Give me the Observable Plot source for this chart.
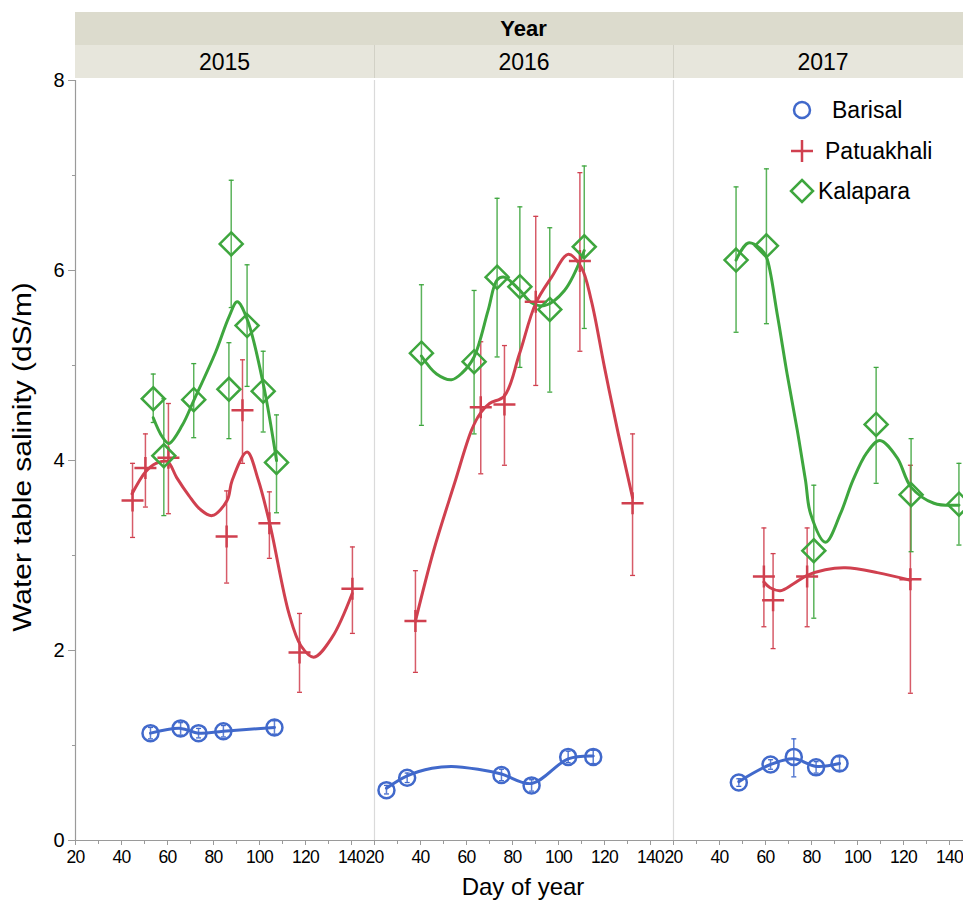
<!DOCTYPE html>
<html>
<head>
<meta charset="utf-8">
<script src="https://cdn.jsdelivr.net/npm/d3@7"></script>
<script src="https://cdn.jsdelivr.net/npm/@observablehq/plot@0.6"></script>
<style>
  html, body { margin: 0; padding: 0; background: #fff; }
  #wrap { position: relative; width: 963px; height: 901px; overflow: hidden;
          font-family: "Liberation Sans", Arial, Helvetica, sans-serif; color: #000; }
  #plot { position: absolute; left: 0; top: 0; width: 975px; }
  .abs { position: absolute; white-space: nowrap; }
</style>
</head>
<body>
<div id="wrap">
  <div id="plot"></div>
</div>
<script>
// ---------------- data ----------------
const years = [2015, 2016, 2017];
const sites = ["Barisal", "Patuakhali", "Kalapara"];
const headerTitle = "Year";
const xLabel = "Day of year";
const yLabel = "Water table salinity (dS/m)";
const xTicks = [20, 40, 60, 80, 100, 120, 140];
const xMinor = [30, 50, 70, 90, 110, 130];
const yTicks = [0, 2, 4, 6, 8];
const yMinor = [1, 3, 5, 7];

// rows: [year, day, mean, low, high]
const barisalPts = [
  [2015, 52.6, 1.13, 1.07, 1.19], [2015, 65.7, 1.18, 1.11, 1.24], [2015, 73.5, 1.13, 1.08, 1.18],
  [2015, 84.3, 1.15, 1.09, 1.21], [2015, 106.5, 1.19, 1.12, 1.26],
  [2016, 25.2, 0.53, 0.49, 0.58], [2016, 34.2, 0.66, 0.61, 0.71], [2016, 75.2, 0.69, 0.63, 0.75],
  [2016, 88.3, 0.58, 0.52, 0.64], [2016, 104.2, 0.88, 0.82, 0.94], [2016, 115.1, 0.88, 0.81, 0.95],
  [2017, 48.4, 0.61, 0.57, 0.65], [2017, 62.2, 0.80, 0.75, 0.85], [2017, 72.3, 0.88, 0.67, 1.07],
  [2017, 82.0, 0.77, 0.71, 0.83], [2017, 92.2, 0.81, 0.74, 0.88]
];
const patuakhaliPts = [
  [2015, 44.8, 3.58, 3.19, 3.97], [2015, 50.4, 3.92, 3.51, 4.28], [2015, 60.4, 4.03, 3.44, 4.60],
  [2015, 85.7, 3.20, 2.71, 3.68], [2015, 92.6, 4.53, 3.97, 5.06], [2015, 104.3, 3.34, 2.97, 3.67],
  [2015, 117.4, 1.98, 1.56, 2.39], [2015, 140.4, 2.65, 2.18, 3.09],
  [2016, 37.8, 2.31, 1.77, 2.84], [2016, 66.2, 4.56, 3.86, 5.25], [2016, 76.5, 4.59, 3.95, 5.21],
  [2016, 90.1, 5.67, 4.79, 6.57], [2016, 109.3, 6.10, 5.15, 7.03], [2016, 132.2, 3.55, 2.79, 4.28],
  [2017, 59.3, 2.78, 2.25, 3.29], [2017, 63.3, 2.53, 2.02, 3.02], [2017, 78.1, 2.78, 2.25, 3.29],
  [2017, 123.0, 2.75, 1.55, 3.95]
];
const kalaparaPts = [
  [2015, 53.8, 4.65, 4.40, 4.91], [2015, 58.4, 4.05, 3.42, 4.65], [2015, 71.4, 4.64, 4.24, 5.02],
  [2015, 86.7, 4.75, 4.23, 5.24], [2015, 87.7, 6.28, 5.61, 6.95], [2015, 94.6, 5.42, 4.78, 6.06],
  [2015, 101.6, 4.73, 4.30, 5.15], [2015, 107.4, 3.98, 3.45, 4.48],
  [2016, 40.4, 5.13, 4.37, 5.85], [2016, 63.3, 5.04, 4.28, 5.79], [2016, 73.3, 5.93, 5.09, 6.76],
  [2016, 83.2, 5.83, 4.98, 6.67], [2016, 96.2, 5.59, 4.72, 6.45], [2016, 111.2, 6.25, 5.39, 7.10],
  [2017, 47.2, 6.11, 5.35, 6.88], [2017, 60.4, 6.26, 5.44, 7.07], [2017, 81.0, 3.05, 2.34, 3.74],
  [2017, 108.1, 4.38, 3.76, 4.98], [2017, 123.3, 3.64, 3.04, 4.23], [2017, 144.1, 3.54, 3.11, 3.97]
];

// smoother curves: [year, day, fitted]
const barisalFit = [
  [2015, 52.6, 1.13], [2015, 65.7, 1.18], [2015, 73.5, 1.13], [2015, 84.3, 1.15], [2015, 106.5, 1.19],
  [2016, 25.2, 0.55], [2016, 34.2, 0.68], [2016, 45, 0.76], [2016, 53.5, 0.78], [2016, 65, 0.75],
  [2016, 75.2, 0.70], [2016, 88.3, 0.60], [2016, 104.2, 0.86], [2016, 115.1, 0.89],
  [2017, 48.4, 0.62], [2017, 62.2, 0.80], [2017, 72.3, 0.86], [2017, 82.0, 0.78], [2017, 92.2, 0.81]
];
const patuakhaliFit = [
  [2015, 44.6, 3.65], [2015, 50.4, 3.88], [2015, 55, 3.97], [2015, 59.9, 3.99], [2015, 64, 3.82],
  [2015, 69.3, 3.63], [2015, 74, 3.49], [2015, 79.4, 3.42], [2015, 85.9, 3.58], [2015, 88.1, 3.79],
  [2015, 94.6, 4.09], [2015, 99.4, 3.80], [2015, 104.5, 3.33], [2015, 112.8, 2.39], [2015, 118, 2.05],
  [2015, 123.6, 1.93], [2015, 131.6, 2.14], [2015, 140.3, 2.60],
  [2016, 37.8, 2.31], [2016, 45.7, 3.05], [2016, 54.8, 3.76], [2016, 62.2, 4.32], [2016, 66.1, 4.50],
  [2016, 70, 4.60], [2016, 76.5, 4.68], [2016, 83, 5.12], [2016, 90, 5.65], [2016, 97, 5.93],
  [2016, 104.3, 6.17], [2016, 110, 6.03], [2016, 114.3, 5.68], [2016, 120, 4.98], [2016, 126, 4.28],
  [2016, 132.2, 3.61],
  [2017, 59.3, 2.72], [2017, 62, 2.66], [2017, 66.5, 2.63], [2017, 72, 2.70], [2017, 78.1, 2.79],
  [2017, 86, 2.85], [2017, 94.8, 2.87], [2017, 108.6, 2.82], [2017, 123, 2.74]
];
const kalaparaFit = [
  [2015, 53.8, 4.45], [2015, 57.7, 4.25], [2015, 60.6, 4.18], [2015, 66.4, 4.37], [2015, 71.4, 4.63],
  [2015, 80.9, 5.14], [2015, 86.7, 5.51], [2015, 90.3, 5.67], [2015, 94.6, 5.49], [2015, 101.6, 4.81],
  [2015, 107.4, 4.00],
  [2016, 40.4, 5.10], [2016, 47, 4.91], [2016, 53.5, 4.85], [2016, 58, 4.92], [2016, 63.3, 5.09],
  [2016, 69.4, 5.58], [2016, 73.3, 5.90], [2016, 76.5, 5.93], [2016, 83.2, 5.79], [2016, 88.3, 5.66],
  [2016, 93.9, 5.63], [2016, 102.6, 5.79], [2016, 111.2, 6.21],
  [2017, 47.2, 6.11], [2017, 52.5, 6.29], [2017, 57.8, 6.23], [2017, 60.4, 6.14], [2017, 65.1, 5.54],
  [2017, 69.4, 4.91], [2017, 73.8, 4.32], [2017, 77.4, 3.79], [2017, 79.6, 3.44], [2017, 86.1, 3.14],
  [2017, 92.6, 3.44], [2017, 98, 3.79], [2017, 104, 4.08], [2017, 109.7, 4.21], [2017, 117.2, 4.03],
  [2017, 123.3, 3.72], [2017, 133.2, 3.55], [2017, 144.1, 3.53]
];

// ---------------- styling ----------------
const colors = {Barisal: "#4169cb", Patuakhali: "#d0404f", Kalapara: "#3ea63e"};
const r2 = (s) => Math.sqrt(s / Math.PI);
const capSym = {draw(c, s) { const r = r2(s); c.moveTo(-r, 0); c.lineTo(r, 0); }};
const plusSym = {draw(c, s) { const r = r2(s); c.moveTo(-r, 0); c.lineTo(r, 0); c.moveTo(0, -r); c.lineTo(0, r); }};
const diamondSym = {draw(c, s) { const r = r2(s); c.moveTo(0, -r); c.lineTo(r, 0); c.lineTo(0, r); c.lineTo(-r, 0); c.closePath(); }};
const symbols = {Barisal: {sym: "circle", r: 8}, Patuakhali: {sym: plusSym, r: 11}, Kalapara: {sym: diamondSym, r: 11.5}};

const toPts = (arr) => arr.map(([year, day, mean, lo, hi]) => ({year, day, mean, lo, hi}));
const toFit = (arr) => arr.map(([year, day, fit]) => ({year, day, fit}));
const series = [
  {site: "Barisal", pts: toPts(barisalPts), fit: toFit(barisalFit)},
  {site: "Patuakhali", pts: toPts(patuakhaliPts), fit: toFit(patuakhaliFit)},
  {site: "Kalapara", pts: toPts(kalaparaPts), fit: toFit(kalaparaFit)}
];

const intFmt = (d) => String(d);
const marks = [
  Plot.ruleX([{year: 2015, d: 20}], {x: "d", fx: "year", stroke: "#9a9a9a", strokeWidth: 1.2}),
  Plot.ruleX([{year: 2016, d: 20}, {year: 2017, d: 20}], {x: "d", fx: "year", stroke: "#dadada", strokeWidth: 1.2}),
  Plot.ruleY([0], {stroke: "#9a9a9a", strokeWidth: 1.2}),
  Plot.axisY(yTicks, {tickSize: 7, tickPadding: 4, tickFormat: intFmt, stroke: "#9a9a9a", fill: "#000", label: null}),
  Plot.axisY(yMinor, {tickSize: 3, tickFormat: () => "", stroke: "#9a9a9a", label: null}),
  Plot.axisX(xTicks, {tickSize: 5, tickPadding: 5, tickFormat: intFmt, stroke: "#9a9a9a", fill: "#000", label: null}),
  Plot.axisX(xMinor, {tickSize: 4, tickFormat: () => "", stroke: "#9a9a9a", label: null})
];
// error bars
for (const s of series) {
  const c = colors[s.site];
  marks.push(Plot.ruleX(s.pts, {x: "day", y1: "lo", y2: "hi", fx: "year", stroke: c, strokeWidth: 1.5, strokeOpacity: 0.85}));
  marks.push(Plot.dot(s.pts, {x: "day", y: "lo", fx: "year", symbol: capSym, r: 2.5, stroke: c, strokeWidth: 1.3, fill: "none"}));
  marks.push(Plot.dot(s.pts, {x: "day", y: "hi", fx: "year", symbol: capSym, r: 2.5, stroke: c, strokeWidth: 1.3, fill: "none"}));
}
// smoothers
for (const s of series) {
  marks.push(Plot.line(s.fit, {x: "day", y: "fit", fx: "year", stroke: colors[s.site], strokeWidth: 3, curve: "catmull-rom"}));
}
// markers
for (const s of series) {
  const m = symbols[s.site];
  marks.push(Plot.dot(s.pts, {x: "day", y: "mean", fx: "year", symbol: m.sym, r: m.r, stroke: colors[s.site], strokeWidth: 2.5, fill: "none"}));
}

const chart = Plot.plot({
  width: 975,
  height: 876,
  marginLeft: 75,
  marginRight: 3,
  marginTop: 80,
  marginBottom: 36,
  style: {fontFamily: "'Liberation Sans', Arial, Helvetica, sans-serif", color: "#000", background: "transparent", overflow: "visible", maxWidth: "none"},
  fx: {domain: years, padding: 0, axis: null, label: null},
  x: {domain: [20, 150]},
  y: {domain: [0, 8]},
  marks
});
document.getElementById("plot").appendChild(chart);
// tick label sizes: set directly on each text element
chart.querySelectorAll("text").forEach((t) => {
  const lab = (t.closest("[aria-label]") || {getAttribute: () => ""}).getAttribute("aria-label") || "";
  if (lab.includes("y-axis")) { t.style.fontSize = "20px"; }
  else if (lab.includes("x-axis")) { t.style.fontSize = "17.5px"; t.style.letterSpacing = "-0.8px"; }
});

// ---------------- header, labels, legend (HTML text) ----------------
const wrap = document.getElementById("wrap");
function el(css, html) {
  const d = document.createElement("div");
  d.className = "abs";
  d.style.cssText = css;
  d.innerHTML = html;
  wrap.appendChild(d);
  return d;
}
const left = 75, panelW = 299;
el(`left:${left}px;top:12px;width:${panelW * 3}px;height:33px;background:#dcdbcd;text-align:center;font-weight:bold;font-size:22px;line-height:33px;`, headerTitle);
years.forEach((y, i) => {
  el(`left:${left + i * panelW}px;top:45px;width:${panelW}px;height:33px;background:#e7e6dc;text-align:center;font-size:23px;line-height:34px;box-sizing:border-box;${i > 0 ? "border-left:1px solid #d2d1c6;" : ""}`, String(y));
});
el(`left:22px;top:457px;font-size:26px;line-height:1;transform:translate(-50%,-50%) rotate(-90deg) scaleX(1.15);`, yLabel);
el(`left:523px;top:887px;font-size:24px;line-height:1;transform:translate(-50%,-50%);`, xLabel);

const legendRows = [
  {site: "Barisal", y: 110, tx: 832, svg: `<circle cx="12" cy="12" r="8" fill="none" stroke="${colors.Barisal}" stroke-width="2.5"/>`},
  {site: "Patuakhali", y: 151, tx: 825, svg: `<path d="M1,12H23M12,1V23" fill="none" stroke="${colors.Patuakhali}" stroke-width="2.5"/>`},
  {site: "Kalapara", y: 191, tx: 818, svg: `<path d="M12,1L23,12L12,23L1,12Z" fill="none" stroke="${colors.Kalapara}" stroke-width="2.5"/>`}
];
legendRows.forEach((r, i) => {
  el(`left:790px;top:${r.y - 12}px;width:24px;height:24px;`, `<svg width="24" height="24" style="display:block;overflow:visible">${r.svg}</svg>`);
  el(`left:${r.tx}px;top:${r.y}px;font-size:23px;line-height:1;transform:translateY(-50%);`, sites[i]);
});
</script>
</body>
</html>
